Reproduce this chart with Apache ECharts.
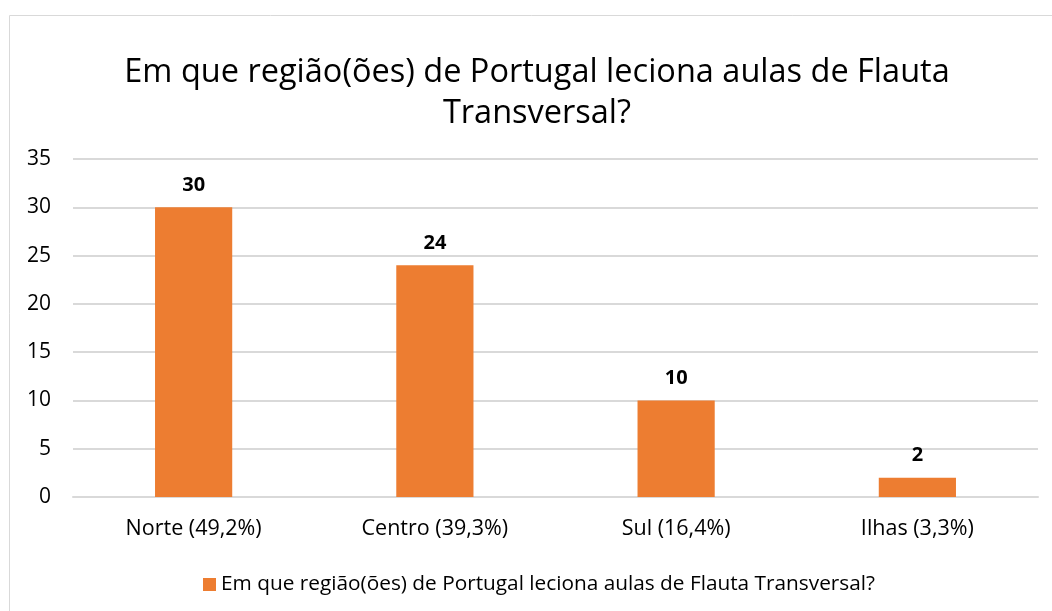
<!DOCTYPE html>
<html>
<head>
<meta charset="utf-8">
<script src="https://cdn.jsdelivr.net/npm/echarts@6/dist/echarts.min.js"></script>
<style>
    html, body { margin: 0; padding: 0; background: #fff; }
    #chart { width: 1052px; height: 611px; }
</style>
</head>
<body>
<div id="chart"></div>
<script>
    // dados do grafico
    var categories = ['Norte (49,2%)', 'Centro (39,3%)', 'Sul (16,4%)', 'Ilhas (3,3%)'];
    var values = [30, 24, 10, 2];
    var seriesName = 'Em que região(ões) de Portugal leciona aulas de Flauta Transversal?';
    var titleText = 'Em que região(ões) de Portugal leciona aulas de Flauta\nTransversal?';

    var font = 'Open Sans';
    var chart = echarts.init(document.getElementById('chart'));
    var option = {
        animation: false,
        graphic: [{
            type: 'rect',
            shape: { x: 9.5, y: 15.5, width: 1060, height: 620 },
            style: { fill: 'none', stroke: '#d9d9d9', lineWidth: 1 },
            silent: true
        }],
        title: {
            text: titleText,
            left: 537,
            top: 52,
            textAlign: 'center',
            padding: 0,
            textStyle: {
                fontFamily: font,
                fontSize: 32.5,
                fontWeight: 'normal',
                color: '#000',
                lineHeight: 41
            }
        },
        legend: {
            bottom: 16,
            left: 203,
            padding: 0,
            itemWidth: 13,
            itemHeight: 13,
            itemGap: 6,
            icon: 'rect',
            textStyle: { fontFamily: font, fontSize: 20.8, color: '#000' },
            data: [seriesName]
        },
        grid: { left: 73, right: 14, top: 159, bottom: 114 },
        xAxis: {
            type: 'category',
            data: categories,
            axisLine: { lineStyle: { color: '#d9d9d9', width: 2 } },
            axisTick: { show: false },
            axisLabel: { fontFamily: font, fontSize: 21.5, color: '#000', margin: 21 }
        },
        yAxis: {
            type: 'value',
            min: 0,
            max: 35,
            interval: 5,
            axisLine: { show: false },
            axisTick: { show: false },
            splitLine: { lineStyle: { color: '#d9d9d9', width: 2 } },
            axisLabel: { fontFamily: font, fontSize: 21, color: '#000', margin: 22 }
        },
        series: [{
            name: seriesName,
            type: 'bar',
            data: values,
            barWidth: '32%',
            itemStyle: { color: '#ED7D31' },
            label: {
                show: true,
                position: 'top',
                distance: 12,
                fontFamily: font,
                fontSize: 20,
                fontWeight: 'bold',
                color: '#000'
            }
        }]
    };
    chart.setOption(option);
</script>
</body>
</html>
